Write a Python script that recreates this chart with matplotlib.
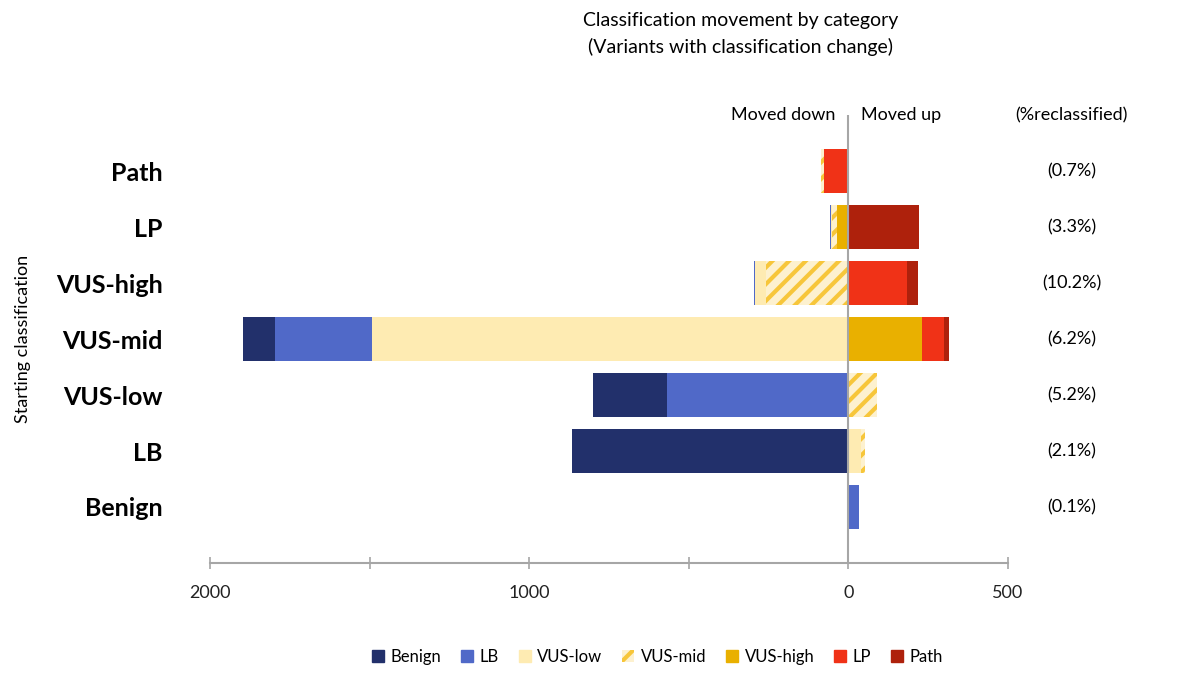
import numpy as np
import matplotlib
matplotlib.use('Agg')
import matplotlib.pyplot as plt
from matplotlib.patches import Patch

plt.rcParams['font.family'] = ['Lato', 'DejaVu Sans']
plt.rcParams['hatch.linewidth'] = 3.0

# starting classification, bottom to top
rows = ['Benign', 'LB', 'VUS-low', 'VUS-mid', 'VUS-high', 'LP', 'Path']
pct = ['(0.1%)', '(2.1%)', '(5.2%)', '(6.2%)', '(10.2%)', '(3.3%)', '(0.7%)']

# number of variants moved to each new class (negative = moved down)
to_benign = [0, -866, -232, -99, 0, 0, 0]
to_lb = [33, 0, -568, -304, -3, -3, 0]
to_vus_low = [0, 38, 0, -1493, -37, -5, 0]
to_vus_mid = [0, 15, 90, 0, -257, -15, -8]
to_vus_high = [0, 0, 0, 232, 0, -35, 0]
to_lp = [0, 0, 0, 69, 184, 0, -78]
to_path = [0, 0, 0, 15, 33, 222, 0]

dest = ['Benign', 'LB', 'VUS-low', 'VUS-mid', 'VUS-high', 'LP', 'Path']
vals = [to_benign, to_lb, to_vus_low, to_vus_mid, to_vus_high, to_lp, to_path]

styles = {
    'Benign': dict(color='#22306b'),
    'LB': dict(color='#5069c8'),
    'VUS-low': dict(color='#feebb2'),
    'VUS-mid': dict(facecolor='#fdf1cf', edgecolor='#f7c63a', hatch='//', linewidth=0),
    'VUS-high': dict(color='#e9b000'),
    'LP': dict(color='#f03217'),
    'Path': dict(color='#ae210c'),
}

fig = plt.figure(figsize=(12, 6.77), dpi=100)
ax = fig.add_axes([0.175, 0.1684, 0.665, 0.6617])

y = np.arange(len(rows))
h = 0.78

# moved up: stack from zero outward, lowest class first
left = np.zeros(len(rows))
for name, v in zip(dest, vals):
    v = np.clip(np.array(v, dtype=float), 0, None)
    ax.barh(y, v, left=left, height=h, **styles[name])
    left += v

# moved down: nearest class to the start first
left = np.zeros(len(rows))
for name, v in zip(dest[::-1], vals[::-1]):
    v = np.clip(np.array(v, dtype=float), None, 0)
    ax.barh(y, v, left=left, height=h, **styles[name])
    left += v

ax.axvline(0, color='#a6a6a6', lw=1.5, zorder=5)

ax.set_xlim(-2000, 500)
ax.set_ylim(-1, 7)
ax.set_xticks([-2000, -1500, -1000, -500, 0, 500])
ax.set_xticklabels(['2000', '', '1000', '', '0', '500'], fontsize=13, color='#222222')
ax.tick_params(axis='x', direction='inout', length=8, color='#a6a6a6', width=1.2, pad=12)
ax.set_yticks(y)
ax.set_yticklabels(rows, fontsize=18, fontweight='bold')
ax.tick_params(axis='y', length=0, pad=34)
for s in ['top', 'right', 'left']:
    ax.spines[s].set_visible(False)
ax.spines['bottom'].set_color('#a6a6a6')
ax.spines['bottom'].set_linewidth(1.5)

ax.set_ylabel('Starting classification', fontsize=13, labelpad=18)

tr = ax.get_yaxis_transform()
for yi, p in zip(y, pct):
    ax.text(1.08, yi, p, transform=tr, ha='center', va='center', fontsize=13, clip_on=False)
ax.text(1.08, 7.0, '(%reclassified)', transform=tr, ha='center', va='center', fontsize=13, clip_on=False)
ax.text(-40, 7.0, 'Moved down', ha='right', va='center', fontsize=13, clip_on=False)
ax.text(40, 7.0, 'Moved up', ha='left', va='center', fontsize=13, clip_on=False)

fig.text(0.617, 0.982, 'Classification movement by category\n(Variants with classification change)',
         ha='center', va='top', fontsize=14, linespacing=1.55)

handles = [Patch(label=n, **styles[n]) for n in dest]
fig.legend(handles=handles, loc='center', bbox_to_anchor=(0.548, 0.03), ncol=7, frameon=False,
           fontsize=12, handlelength=0.7, handleheight=0.7, handletextpad=0.4, columnspacing=1.2)

fig.savefig('out.png', dpi=100)
